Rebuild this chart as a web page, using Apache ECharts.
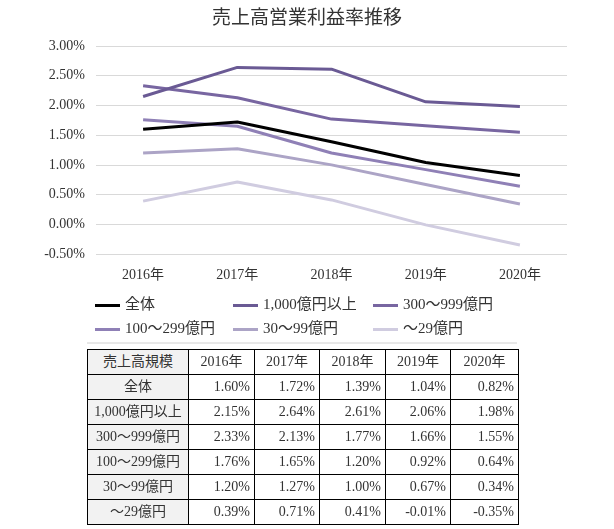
<!DOCTYPE html>
<html>
<head>
<meta charset="utf-8">
<script src="https://cdn.jsdelivr.net/npm/echarts@6/dist/echarts.min.js"></script>
<style>
html,body{margin:0;padding:0;background:#fff;}
#wrap{position:relative;width:614px;height:529px;overflow:hidden;}
#chart{position:absolute;left:0;top:0;width:614px;height:529px;}
#tbl{position:absolute;left:87px;top:349px;width:431px;table-layout:fixed;border-collapse:collapse;font-family:"Liberation Serif","Noto Sans CJK JP",serif;font-size:14px;color:#333;}
#tbl td{border:1px solid #000;height:25px;padding:0 4px;line-height:16px;vertical-align:middle;box-sizing:border-box;text-align:right;white-space:nowrap;overflow:hidden;}
#tbl td.h{background:#f2f2f2;text-align:center;padding:0 2px;}
</style>
</head>
<body>
<div id="wrap">
<div id="chart"></div>
<table id="tbl"></table>
</div>
<script>
const title = '売上高営業利益率推移';
const categories = ['2016年','2017年','2018年','2019年','2020年'];
const seriesNames = ['全体','1,000億円以上','300～999億円','100～299億円','30～99億円','～29億円'];
const totalAll   = [1.60, 1.72, 1.39, 1.04, 0.82];
const over1000   = [2.15, 2.64, 2.61, 2.06, 1.98];
const s300to999  = [2.33, 2.13, 1.77, 1.66, 1.55];
const s100to299  = [1.76, 1.65, 1.20, 0.92, 0.64];
const s30to99    = [1.20, 1.27, 1.00, 0.67, 0.34];
const under29    = [0.39, 0.71, 0.41, -0.01, -0.35];
const tableHeader = '売上高規模';
const colors = ['#000000','#6a5a94','#7866a1','#8f80b6','#aca4c6','#d0cce0'];

const allData = [totalAll, over1000, s300to999, s100to299, s30to99, under29];
const font = '"Liberation Serif","Noto Sans CJK JP",serif';

const chart = echarts.init(document.getElementById('chart'));
const legendPos = [[95,298],[233,298],[373,298],[95,322],[233,322],[373,322]];
chart.setOption({
  animation:false,
  title:{text:title,left:'center',top:5,textStyle:{fontFamily:font,fontSize:19,fontWeight:'normal',color:'#333'}},
  grid:{left:96,right:47,top:46,bottom:275},
  xAxis:{type:'category',data:categories,boundaryGap:true,
    axisLine:{show:false},axisTick:{show:false},
    axisLabel:{fontFamily:font,fontSize:14,color:'#333',margin:14}},
  yAxis:{type:'value',min:-0.5,max:3,interval:0.5,
    axisLabel:{fontFamily:font,fontSize:14,color:'#333',margin:11,formatter:v=>v.toFixed(2)+'%'},
    splitLine:{lineStyle:{color:'#d9d9d9',width:1}},axisLine:{show:false},axisTick:{show:false}},
  legend: seriesNames.map((n,i)=>({data:[n],left:legendPos[i][0],top:legendPos[i][1],
    icon:'rect',itemWidth:25,itemHeight:3,itemGap:0,padding:0,
    textStyle:{fontFamily:font,fontSize:15,color:'#333'}})),
  graphic:[{type:'line',shape:{x1:87,y1:343,x2:517,y2:343},style:{stroke:'#d0d0d0',lineWidth:1},silent:true}],
  series: seriesNames.map((n,i)=>({name:n,type:'line',data:allData[i],symbol:'none',
    lineStyle:{width:3,color:colors[i]},itemStyle:{color:colors[i]},z:10-i}))
});

// Data table built from the same arrays
const tbl = document.getElementById('tbl');
const widths = [101,66,65,66,65,68];
let html = '<colgroup>' + widths.map(w=>'<col style="width:'+w+'px">').join('') + '</colgroup>';
html += '<tr><td class="h">'+tableHeader+'</td>';
categories.forEach(c=>{html += '<td style="text-align:center">'+c+'</td>';});
html += '</tr>';
seriesNames.forEach((n,i)=>{
  html += '<tr><td class="h">'+n+'</td>';
  allData[i].forEach(v=>{html += '<td>'+v.toFixed(2)+'%</td>';});
  html += '</tr>';
});
tbl.innerHTML = html;
</script>
</body>
</html>
